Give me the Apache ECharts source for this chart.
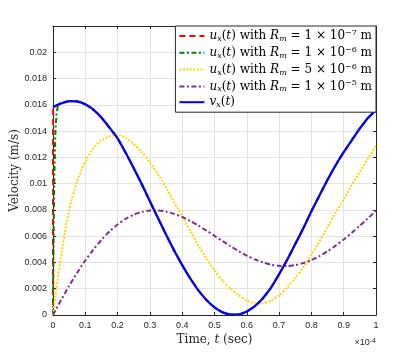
<!DOCTYPE html>
<html>
<head>
<meta charset="utf-8">
<script src="https://cdn.jsdelivr.net/npm/echarts@6/dist/echarts.min.js"></script>
<style>html,body{margin:0;padding:0;background:#fff}#c{width:415px;height:354px}</style>
</head>
<body>
<div id="c"></div>
<script>
// Sample times (units of 1e-4 s)
const tGrid = [0, 0.01, 0.025, 0.05, 0.075, 0.1, 0.125, 0.15, 0.175, 0.2, 0.225, 0.25, 0.275, 0.3, 0.325, 0.35, 0.375, 0.4, 0.425, 0.45, 0.475, 0.5, 0.525, 0.55, 0.575, 0.6, 0.625, 0.65, 0.675, 0.7, 0.725, 0.75, 0.775, 0.8, 0.825, 0.85, 0.875, 0.9, 0.925, 0.95, 0.975, 1.0];
// v_x(t)
const blueV = [0.0158, 0.01595, 0.0161, 0.01628, 0.01626, 0.01604, 0.01563, 0.01503, 0.01426, 0.01345, 0.01235, 0.01118, 0.00995, 0.00866, 0.00738, 0.00612, 0.00491, 0.0038, 0.00278, 0.00188, 0.00115, 0.00058, 0.0002, 0.00003, 0.00004, 0.00026, 0.00067, 0.00128, 0.00208, 0.0031, 0.0042, 0.0054, 0.0066, 0.0079, 0.0091, 0.0103, 0.0114, 0.0124, 0.0133, 0.0142, 0.015, 0.0156];
// u_x(t), R_m = 5e-6
const yellowV = [0, 0.0019, 0.0045, 0.008, 0.0102, 0.0117, 0.0127, 0.0133, 0.0136, 0.0137, 0.0135, 0.013, 0.0124, 0.0116, 0.0107, 0.0097, 0.0086, 0.0075, 0.0064, 0.0053, 0.0043, 0.0034, 0.0026, 0.002, 0.0015, 0.0011, 0.0009, 0.0009, 0.0011, 0.0015, 0.0021, 0.0028, 0.0036, 0.0046, 0.0056, 0.0067, 0.0078, 0.0088, 0.0099, 0.0109, 0.0119, 0.0129];
// u_x(t), R_m = 1e-5
const purpleV = [0, 0.00046, 0.00114, 0.00222, 0.00322, 0.00415, 0.00498, 0.00572, 0.00636, 0.00689, 0.00732, 0.00764, 0.00785, 0.00795, 0.00796, 0.00787, 0.0077, 0.00746, 0.00716, 0.00681, 0.00643, 0.00603, 0.00563, 0.00523, 0.00486, 0.00452, 0.00423, 0.004, 0.00383, 0.00374, 0.00373, 0.0038, 0.00395, 0.00418, 0.00448, 0.00485, 0.00528, 0.00575, 0.00626, 0.0068, 0.00736, 0.00793];
// u_x(t), R_m = 1e-6 : initial rise, then follows v_x
const greenStartT = [0, 0.002, 0.004, 0.006, 0.008, 0.011, 0.015, 0.02];
const greenStartV = [0, 0.0065, 0.0105, 0.0128, 0.0142, 0.0153, 0.0159, 0.0161];
// u_x(t), R_m = 1e-7 : near-instant rise, then follows v_x
const redStartT = [0, 0.0002, 0.0006];
const redStartV = [0, 0.014, 0.0158];

const xTicks = [0, 0.1, 0.2, 0.3, 0.4, 0.5, 0.6, 0.7, 0.8, 0.9, 1];
const yTicks = [0, 0.002, 0.004, 0.006, 0.008, 0.01, 0.012, 0.014, 0.016, 0.018, 0.02];

const names = [
  'u_x(t) with R_m = 1e-7 m',
  'u_x(t) with R_m = 1e-6 m',
  'u_x(t) with R_m = 5e-6 m',
  'u_x(t) with R_m = 1e-5 m',
  'v_x(t)'
];
const legendRich = {
  [names[0]]: '{i|u}{sub|x}{n|(}{i|t}{n|) with }{i|R}{sub|m}{n| = 1 × 10}{sup|−7}{n| m}',
  [names[1]]: '{i|u}{sub|x}{n|(}{i|t}{n|) with }{i|R}{sub|m}{n| = 1 × 10}{sup|−6}{n| m}',
  [names[2]]: '{i|u}{sub|x}{n|(}{i|t}{n|) with }{i|R}{sub|m}{n| = 5 × 10}{sup|−6}{n| m}',
  [names[3]]: '{i|u}{sub|x}{n|(}{i|t}{n|) with }{i|R}{sub|m}{n| = 1 × 10}{sup|−5}{n| m}',
  [names[4]]: '{i|v}{sub|x}{n|(}{i|t}{n|)}'
};

function pairs(ts, vs) { return ts.map((t, i) => [t, vs[i]]); }
const bluePairs = pairs(tGrid, blueV);
const greenData = pairs(greenStartT, greenStartV).concat(bluePairs.filter(p => p[0] > 0.02));
const redData = pairs(redStartT, redStartV).concat(bluePairs.filter(p => p[0] > 0.001));

const serif = 'DejaVu Serif';
const sans = 'Liberation Sans';
const axisCol = '#262626';
const gridCol = '#e3e3e3';

function fmt(v) { return v === 0 ? '0' : String(+v.toFixed(4)); }

const chart = echarts.init(document.getElementById('c'), null, {renderer: 'canvas'});
const xBase = {
  type: 'value', min: 0, max: 1, interval: 0.1,
  axisLine: {show: true, onZero: false, lineStyle: {color: axisCol, width: 1}},
  axisTick: {show: true, inside: true, length: 3, lineStyle: {color: axisCol}},
};
const yBase = {
  type: 'value', min: 0, max: 0.022, interval: 0.002,
  axisLine: {show: true, onZero: false, lineStyle: {color: axisCol, width: 1}},
  axisTick: {show: true, inside: true, length: 3, lineStyle: {color: axisCol}},
};
const nameRich = {
  n: {fontFamily: serif, fontSize: 12, color: axisCol},
  i: {fontFamily: serif, fontSize: 12, fontStyle: 'italic', color: axisCol}
};
chart.setOption({
  animation: false,
  backgroundColor: '#fff',
  grid: {left: 53, right: 39, top: 26, bottom: 39, containLabel: false, outerBoundsMode: 'none'},
  xAxis: [
    Object.assign({}, xBase, {
      position: 'bottom',
      name: '{n|Time, }{i|t}{n| (sec)}',
      nameLocation: 'middle', nameGap: 19, nameMoveOverlap: false,
      nameTextStyle: {fontFamily: serif, fontSize: 12, color: axisCol, rich: nameRich},
      axisLabel: {color: axisCol, fontFamily: sans, fontSize: 9, margin: 6, formatter: fmt},
      splitLine: {show: true, lineStyle: {color: gridCol, width: 1}}
    }),
    Object.assign({}, xBase, {
      position: 'top', axisLabel: {show: false}, splitLine: {show: false}
    })
  ],
  yAxis: [
    Object.assign({}, yBase, {
      position: 'left',
      name: 'Velocity (m/s)',
      nameLocation: 'middle', nameGap: 32, nameMoveOverlap: false,
      nameTextStyle: {fontFamily: serif, fontSize: 12, color: axisCol},
      axisLabel: {color: axisCol, fontFamily: sans, fontSize: 9, margin: 6, formatter: fmt, showMaxLabel: false},
      splitLine: {show: true, lineStyle: {color: gridCol, width: 1}}
    }),
    Object.assign({}, yBase, {
      position: 'right', axisLabel: {show: false}, splitLine: {show: false}
    })
  ],
  legend: {
    orient: 'vertical',
    right: 39, top: 26,
    padding: [3, 4, 3, 3],
    itemGap: 2.8,
    itemWidth: 25, itemHeight: 14,
    backgroundColor: '#fff',
    borderColor: axisCol, borderWidth: 1, borderRadius: 0,
    itemStyle: {opacity: 0},
    data: names,
    formatter: name => legendRich[name],
    textStyle: {
      color: '#000',
      rich: {
        n: {fontFamily: serif, fontSize: 12, color: '#000', lineHeight: 14},
        i: {fontFamily: serif, fontSize: 12, fontStyle: 'italic', color: '#000', lineHeight: 14},
        sub: {fontFamily: serif, fontSize: 8, fontStyle: 'italic', color: '#000', verticalAlign: 'bottom', lineHeight: 14},
        sup: {fontFamily: serif, fontSize: 8, color: '#000', verticalAlign: 'top', lineHeight: 14}
      }
    }
  },
  graphic: [{
    type: 'text', right: 39, top: 338,
    style: {
      rich: {
        a: {fontFamily: sans, fontSize: 9, fill: axisCol},
        s: {fontFamily: sans, fontSize: 7, fill: axisCol, verticalAlign: 'top'}
      },
      text: '{a|×10}{s|-4}'
    }
  }],
  series: [
    {name: names[0], type: 'line', data: redData, symbol: 'none',
     lineStyle: {color: '#ff0000', width: 2, type: [6, 4]}, itemStyle: {color: '#ff0000'}},
    {name: names[1], type: 'line', data: greenData, symbol: 'none',
     lineStyle: {color: '#008000', width: 2, type: [5, 2.5, 2, 2.5]}, itemStyle: {color: '#008000'}},
    {name: names[2], type: 'line', data: pairs(tGrid, yellowV), symbol: 'none', smooth: 0.25,
     lineStyle: {color: '#ffd700', width: 2, type: [2, 1.5]}, itemStyle: {color: '#ffd700'}},
    {name: names[3], type: 'line', data: pairs(tGrid, purpleV), symbol: 'none', smooth: 0.25,
     lineStyle: {color: '#7e2f8e', width: 2, type: [5, 2.5, 2, 2.5]}, itemStyle: {color: '#7e2f8e'}},
    {name: names[4], type: 'line', data: bluePairs, symbol: 'none', smooth: 0.25,
     lineStyle: {color: '#0000ff', width: 2.2}, itemStyle: {color: '#0000ff'}}
  ]
});
</script>
</body>
</html>
